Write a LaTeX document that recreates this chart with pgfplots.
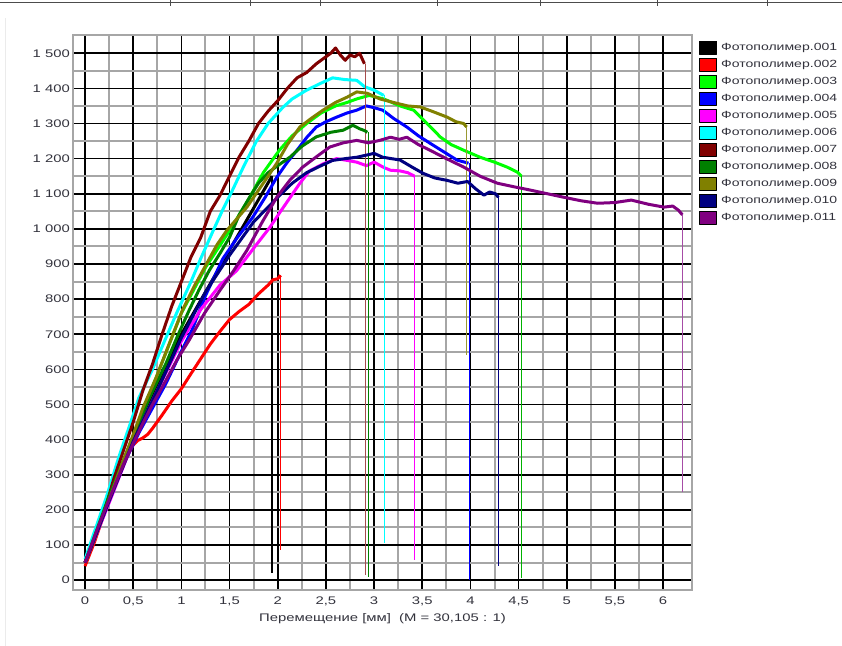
\documentclass[border=0pt]{standalone}
\usepackage{fontspec}
\setmainfont{Liberation Sans}[FakeStretch=1.35]
\usepackage{pgfplots}
\pgfplotsset{compat=1.18}
\definecolor{c001}{RGB}{0,0,0}
\definecolor{c002}{RGB}{255,0,0}
\definecolor{c003}{RGB}{0,255,0}
\definecolor{c004}{RGB}{0,0,255}
\definecolor{c005}{RGB}{255,0,255}
\definecolor{c006}{RGB}{0,255,255}
\definecolor{c007}{RGB}{128,0,0}
\definecolor{c008}{RGB}{0,128,0}
\definecolor{c009}{RGB}{128,128,0}
\definecolor{c010}{RGB}{0,0,128}
\definecolor{c011}{RGB}{128,0,128}
\definecolor{txt}{RGB}{50,50,60}
\begin{document}
\begin{tikzpicture}
\path[use as bounding box] (0bp,0bp) rectangle (842bp,646bp);
\draw[black!70, line width=0.8bp] (0bp,644bp) -- (842bp,644bp);
\foreach \xx in {170,250,320,437,540,657,767} \draw[black!70,line width=0.8bp] (\xx bp,646bp)--(\xx bp,640bp);
\draw[black!8, line width=1bp] (5bp,628bp)--(5bp,0bp);
\begin{axis}[
  at={(73bp,56bp)}, anchor=south west,
  scale only axis, width=619bp, height=555bp,
  xmin=-0.125, xmax=6.3, ymin=-28, ymax=1552,
  xtick={0,0.5,...,6},
  xticklabels={0,{0,5},1,{1,5},2,{2,5},3,{3,5},4,{4,5},5,{5,5},6},
  ytick={0,100,...,1500},
  yticklabels={0,100,200,300,400,500,600,700,800,900,1 000,1 100,1 200,1 300,1 400,1 500},
  minor x tick num=1, minor y tick num=1,
  grid=both,
  major grid style={black, line width=1.6bp},
  minor grid style={black!35, line width=2bp},
  axis line style={black!35, line width=2bp},
  major tick length=0pt, minor tick length=0pt,
  /pgf/number format/assume math mode=true,
  tick label style={font=\fontsize{11bp}{13bp}\selectfont, text=txt},
  yticklabel style={anchor=east, inner sep=0pt, xshift=-3bp},
  xticklabel style={anchor=north, inner sep=0pt, yshift=-7bp},
  xlabel={Перемещение [мм]\ \ (M = 30,105 : 1)},
  xlabel style={font=\fontsize{11bp}{13bp}\selectfont, text=txt, at={(axis description cs:0.5,0)}, anchor=north, inner sep=0pt, yshift=-23bp},
  legend cell align=left,
  legend style={at={(axis description cs:1.0103,0.990)}, anchor=north west, draw=none, fill=none,
    font=\fontsize{10.4bp}{13bp}\selectfont, text=txt, row sep=3bp, column sep=4bp, inner sep=0pt,
    nodes={inner sep=0pt}},
  legend image code/.code={\filldraw[#1, draw=black, line width=1.2bp] (0bp,-6.4bp) rectangle (17.4bp,6.4bp);},
  curve/.style={line width=3bp, line join=round},
  drop/.style={forget plot, line width=1.4bp},
]
% 001
\addplot[c001, curve] coordinates {(0,50) (0.5,400) (1.0,700) (1.5,940) (1.94,1150)};
\addlegendentry{Фотополимер.001}
\addplot[c001, drop] coordinates {(1.94,1150) (1.94,20)};
% 002
\addplot[c002, curve] coordinates {(0,40) (0.1,110) (0.2,190) (0.3,260) (0.4,335) (0.5,385) (0.55,398) (0.6,405) (0.65,415) (0.7,432) (0.8,470) (0.9,510) (1.0,545) (1.1,588) (1.2,630) (1.3,672) (1.4,708) (1.5,742) (1.6,765) (1.7,785) (1.8,815) (1.9,840) (1.95,855) (2.0,858) (2.03,868)};
\addlegendentry{Фотополимер.002}
\addplot[c002, drop] coordinates {(2.03,868) (2.03,85)};
% 003
\addplot[c003, curve] coordinates {(0,50) (0.25,235) (0.5,410) (0.75,585) (1.0,760) (1.25,890) (1.5,995) (1.7,1085) (1.85,1160) (2.02,1225) (2.15,1265) (2.3,1300) (2.45,1330) (2.6,1350) (2.72,1360) (2.82,1370) (2.95,1380) (3.1,1370) (3.27,1350) (3.41,1338) (3.55,1300) (3.69,1261) (3.8,1240) (3.93,1224) (4.1,1204) (4.25,1190) (4.38,1176) (4.49,1161) (4.53,1150)};
\addlegendentry{Фотополимер.003}
\addplot[c003!70!black, drop] coordinates {(4.53,1150) (4.53,5)};
% 004
\addplot[c004, curve] coordinates {(0,50) (0.25,225) (0.4,330) (0.56,420) (0.7,490) (0.84,560) (0.97,635) (1.11,712) (1.25,810) (1.43,915) (1.58,975) (1.74,1033) (1.87,1090) (1.99,1147) (2.1,1190) (2.2,1224) (2.3,1260) (2.4,1290) (2.5,1305) (2.61,1318) (2.72,1330) (2.82,1338) (2.92,1350) (3.0,1345) (3.09,1338) (3.2,1315) (3.34,1290) (3.46,1265) (3.58,1244) (3.72,1220) (3.86,1196) (3.98,1187)};
\addlegendentry{Фотополимер.004}
\addplot[c004, drop] coordinates {(3.99,1187) (3.99,0)};
% 005
\addplot[c005, curve] coordinates {(0,50) (0.25,220) (0.5,395) (0.75,540) (1.0,680) (1.2,770) (1.4,840) (1.57,880) (1.75,945) (1.92,1005) (2.03,1050) (2.13,1090) (2.23,1130) (2.33,1165) (2.47,1185) (2.61,1200) (2.72,1195) (2.82,1190) (2.92,1180) (3.0,1190) (3.1,1175) (3.17,1167) (3.27,1165) (3.35,1160) (3.42,1150)};
\addlegendentry{Фотополимер.005}
\addplot[c005, drop] coordinates {(3.42,1150) (3.42,57)};
% 006
\addplot[c006, curve] coordinates {(0,60) (0.1,140) (0.22,235) (0.35,350) (0.45,430) (0.56,520) (0.7,600) (0.84,690) (0.95,760) (1.1,850) (1.2,915) (1.33,995) (1.43,1055) (1.53,1110) (1.65,1180) (1.78,1250) (1.9,1300) (2.05,1345) (2.15,1370) (2.3,1395) (2.45,1415) (2.57,1430) (2.7,1425) (2.82,1423) (2.9,1405) (3.0,1395) (3.1,1380)};
\addlegendentry{Фотополимер.006}
\addplot[c006, drop] coordinates {(3.11,1380) (3.11,105)};
% 007
\addplot[c007, curve] coordinates {(0,50) (0.1,120) (0.2,195) (0.3,290) (0.4,370) (0.5,450) (0.6,540) (0.7,615) (0.8,700) (0.9,780) (1.0,850) (1.1,920) (1.2,975) (1.3,1050) (1.4,1095) (1.5,1150) (1.6,1205) (1.7,1250) (1.8,1300) (1.9,1335) (2.0,1365) (2.1,1400) (2.2,1430) (2.3,1445) (2.4,1470) (2.5,1490) (2.55,1500) (2.6,1515) (2.65,1495) (2.7,1480) (2.75,1495) (2.8,1490) (2.85,1500) (2.9,1470)};
\addlegendentry{Фотополимер.007}
\addplot[c007!70, drop] coordinates {(2.91,1470) (2.91,15)};
% 008
\addplot[c008, curve] coordinates {(0,50) (0.25,240) (0.5,410) (0.67,520) (0.84,617) (0.96,695) (1.08,768) (1.18,825) (1.29,882) (1.4,930) (1.5,976) (1.6,1040) (1.71,1091) (1.8,1130) (1.9,1160) (2.0,1180) (2.13,1205) (2.25,1235) (2.4,1262) (2.55,1275) (2.68,1281) (2.78,1295) (2.85,1285) (2.9,1280) (2.93,1275)};
\addlegendentry{Фотополимер.008}
\addplot[c008, drop] coordinates {(2.94,1275) (2.94,10)};
% 009
\addplot[c009, curve] coordinates {(0,50) (0.1,120) (0.25,230) (0.37,320) (0.49,407) (0.6,490) (0.74,578) (0.87,670) (1.01,768) (1.13,835) (1.26,900) (1.37,955) (1.47,995) (1.58,1030) (1.68,1062) (1.8,1110) (1.9,1150) (1.99,1187) (2.1,1240) (2.23,1290) (2.35,1315) (2.47,1338) (2.6,1360) (2.72,1375) (2.82,1390) (2.93,1386) (3.06,1370) (3.2,1360) (3.35,1350) (3.48,1347) (3.6,1335) (3.76,1318) (3.85,1305) (3.93,1300) (3.96,1290)};
\addlegendentry{Фотополимер.009}
\addplot[c009!80, drop] coordinates {(3.96,1290) (3.96,640)};
% 010
\addplot[c010, curve] coordinates {(0,50) (0.25,225) (0.5,395) (0.75,540) (1.0,690) (1.25,820) (1.5,925) (1.75,1020) (2.0,1090) (2.15,1130) (2.3,1160) (2.45,1180) (2.57,1195) (2.7,1200) (2.82,1204) (2.92,1210) (3.0,1215) (3.09,1204) (3.18,1200) (3.27,1196) (3.4,1175) (3.51,1158) (3.63,1145) (3.76,1138) (3.87,1130) (3.97,1135) (4.05,1115) (4.14,1096) (4.2,1105) (4.26,1100) (4.29,1090)};
\addlegendentry{Фотополимер.010}
\addplot[c010, drop] coordinates {(4.29,1090) (4.29,40)};
% 011
\addplot[c011, curve] coordinates {(0,50) (0.12,140) (0.25,230) (0.4,330) (0.53,407) (0.68,490) (0.84,569) (0.96,630) (1.08,683) (1.24,760) (1.4,825) (1.54,880) (1.68,939) (1.84,1020) (1.99,1090) (2.13,1140) (2.26,1176) (2.4,1205) (2.54,1233) (2.68,1245) (2.82,1252) (2.94,1245) (3.06,1252) (3.17,1261) (3.26,1255) (3.34,1261) (3.46,1240) (3.58,1224) (3.75,1200) (3.93,1176) (4.1,1150) (4.28,1130) (4.45,1120) (4.63,1110) (4.8,1100) (4.97,1090) (5.15,1080) (5.32,1073) (5.5,1075) (5.67,1082) (5.85,1070) (6.01,1062) (6.1,1065) (6.16,1053) (6.2,1040)};
\addlegendentry{Фотополимер.011}
\addplot[c011!70, drop] coordinates {(6.2,1040) (6.2,250)};
\end{axis}
\end{tikzpicture}
\end{document}
